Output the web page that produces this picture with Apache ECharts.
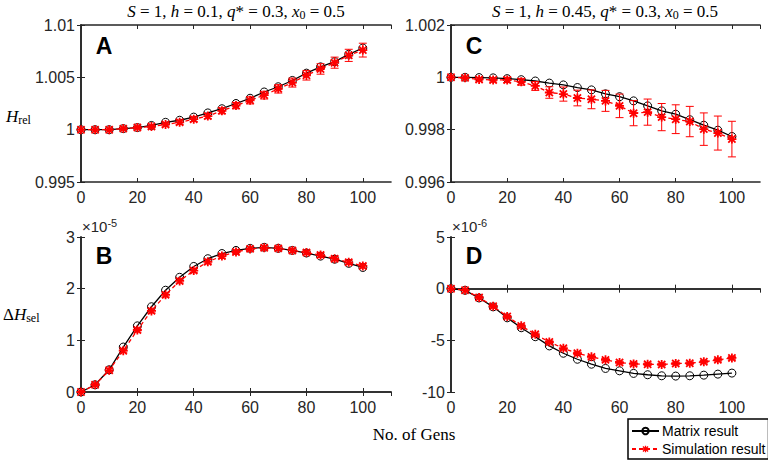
<!DOCTYPE html>
<html>
<head>
<meta charset="utf-8">
<title>Hrel / dHsel</title>
<script src="https://cdn.jsdelivr.net/npm/echarts@6/dist/echarts.min.js"></script>
<style>
  html, body { margin: 0; padding: 0; background: #fff; }
  #main { width: 768px; height: 462px; }
</style>
</head>
<body>
<div id="main"></div>
<script>
// generations (x)
var gens = [0, 5, 10, 15, 20, 25, 30, 35, 40, 45, 50, 55, 60, 65, 70, 75, 80, 85, 90, 95, 100];

// A: H_rel, h = 0.1
var matrixA = [1.0000, 1.0000, 1.0000, 1.0001, 1.0002, 1.0004, 1.0007, 1.0009, 1.0012, 1.0016, 1.0020, 1.0025, 1.0030, 1.0036, 1.0041, 1.0047, 1.0054, 1.0060, 1.0065, 1.0072, 1.0078];
var simA    = [1.0000, 1.0000, 1.0000, 1.0001, 1.0002, 1.0003, 1.0005, 1.0007, 1.0010, 1.0013, 1.0018, 1.0023, 1.0028, 1.0033, 1.0039, 1.0045, 1.0052, 1.0058, 1.0064, 1.0071, 1.0076];
var errA    = [0, 0.00004, 0.00006, 0.00008, 0.0001, 0.00013, 0.00016, 0.0002, 0.00022, 0.00025, 0.00028, 0.0003, 0.00034, 0.00037, 0.0004, 0.00043, 0.00046, 0.0005, 0.00053, 0.00058, 0.00066];

// C: H_rel, h = 0.45
var matrixC = [1.0000, 1.0000, 0.99999, 0.99998, 0.99995, 0.99991, 0.99986, 0.99978, 0.99971, 0.99961, 0.99952, 0.99937, 0.99926, 0.99910, 0.99891, 0.99872, 0.99859, 0.99838, 0.99817, 0.99798, 0.99774];
var simC    = [1.0000, 0.99998, 0.99992, 0.9999, 0.9999, 0.99983, 0.99967, 0.99942, 0.99936, 0.99921, 0.99916, 0.9991, 0.99891, 0.99863, 0.99867, 0.99848, 0.9984, 0.99831, 0.99802, 0.99787, 0.99764];
var errC    = [0, 0.00003, 0.00006, 0.00008, 0.0001, 0.00013, 0.00017, 0.00022, 0.00027, 0.0003, 0.00036, 0.0004, 0.00045, 0.00048, 0.0005, 0.00052, 0.00055, 0.00058, 0.00062, 0.00065, 0.00068];

// B: dH_sel (x 1e-5), h = 0.1
var matrixB = [0, 0.14, 0.43, 0.87, 1.28, 1.65, 1.97, 2.22, 2.43, 2.58, 2.68, 2.74, 2.78, 2.80, 2.78, 2.74, 2.69, 2.63, 2.57, 2.49, 2.41];
var simB    = [0, 0.14, 0.42, 0.80, 1.20, 1.57, 1.88, 2.15, 2.35, 2.52, 2.63, 2.71, 2.77, 2.79, 2.78, 2.74, 2.70, 2.65, 2.58, 2.51, 2.44];
var errB    = [0, 0.02, 0.03, 0.03, 0.04, 0.04, 0.04, 0.04, 0.04, 0.04, 0.04, 0.04, 0.04, 0.04, 0.04, 0.04, 0.04, 0.04, 0.04, 0.04, 0.04];

// D: dH_sel (x 1e-6), h = 0.45
var matrixD = [0, -0.16, -0.9, -1.76, -2.82, -3.78, -4.65, -5.54, -6.25, -6.83, -7.31, -7.72, -7.95, -8.2, -8.33, -8.43, -8.46, -8.43, -8.37, -8.27, -8.17];
var simD    = [0, -0.15, -0.85, -1.7, -2.7, -3.6, -4.42, -5.16, -5.77, -6.25, -6.6, -6.89, -7.15, -7.28, -7.31, -7.34, -7.24, -7.21, -7.08, -6.89, -6.7];
var errD    = [0, 0.05, 0.08, 0.1, 0.1, 0.12, 0.12, 0.12, 0.12, 0.12, 0.12, 0.12, 0.12, 0.12, 0.12, 0.12, 0.12, 0.12, 0.12, 0.12, 0.12];

var xTicks = [0, 110, 20];

var axisColor = '#262626';
var sans = '"Liberation Sans", Arial, sans-serif';
var serif = '"Liberation Serif", "Times New Roman", serif';
var star = 'path://M0,4L10,4L10,6L0,6ZM4,0L6,0L6,10L4,10ZM1.7,0.3L9.7,8.3L8.3,9.7L0.3,1.7ZM8.3,0.3L9.7,1.7L1.7,9.7L0.3,8.3Z';

var panels = [
  { grid: { left: 81, top: 25, width: 310, height: 157 }, y: [0.995, 1.01, 0.005], mat: matrixA, sim: simA, err: errA },
  { grid: { left: 451, top: 25, width: 309, height: 157 }, y: [0.996, 1.002, 0.002], mat: matrixC, sim: simC, err: errC },
  { grid: { left: 81, top: 237, width: 310, height: 155 }, y: [0, 3, 1], mat: matrixB, sim: simB, err: errB },
  { grid: { left: 451, top: 237, width: 309, height: 155 }, y: [-10, 5, 5], mat: matrixD, sim: simD, err: errD }
];

var grids = [], xAxes = [], yAxes = [], series = [];

function errBar(params, api) {
  var x = api.value(0);
  var lo = api.coord([x, api.value(1)]);
  var hi = api.coord([x, api.value(2)]);
  var w = 4;
  var st = { stroke: '#ff0000', lineWidth: 1 };
  return {
    type: 'group',
    children: [
      { type: 'line', shape: { x1: lo[0], y1: lo[1], x2: hi[0], y2: hi[1] }, style: st },
      { type: 'line', shape: { x1: lo[0] - w, y1: lo[1], x2: lo[0] + w, y2: lo[1] }, style: st },
      { type: 'line', shape: { x1: hi[0] - w, y1: hi[1], x2: hi[0] + w, y2: hi[1] }, style: st }
    ]
  };
}

panels.forEach(function (p, i) {
  var g = Object.assign({ outerBoundsMode: 'none' }, p.grid);
  grids.push(g);
  var line = { show: true, lineStyle: { color: axisColor, width: 1.6 } };
  var tick = { show: true, inside: true, length: 4, lineStyle: { color: axisColor, width: 1 } };
  var lab = { color: axisColor, fontFamily: sans, fontSize: 16 };
  xAxes.push({ type: 'value', gridIndex: i, position: 'bottom', min: xTicks[0], max: xTicks[1], interval: xTicks[2],
    axisLine: line, axisTick: tick, splitLine: { show: false },
    axisLabel: Object.assign({ margin: 7, showMaxLabel: false }, lab) });
  xAxes.push({ type: 'value', gridIndex: i, position: 'top', min: xTicks[0], max: xTicks[1], interval: xTicks[2],
    axisLine: line, axisTick: tick, splitLine: { show: false }, axisLabel: { show: false } });
  yAxes.push({ type: 'value', gridIndex: i, position: 'left', min: p.y[0], max: p.y[1], interval: p.y[2],
    axisLine: line, axisTick: tick, splitLine: { show: false },
    axisLabel: Object.assign({ margin: 6 }, lab) });
  yAxes.push({ type: 'value', gridIndex: i, position: 'right', min: p.y[0], max: p.y[1], interval: p.y[2],
    axisLine: line, axisTick: tick, splitLine: { show: false }, axisLabel: { show: false } });

  var mat = gens.map(function (x, k) { return [x, p.mat[k]]; });
  var sim = gens.map(function (x, k) { return [x, p.sim[k]]; });
  var bars = gens.map(function (x, k) { return [x, p.sim[k] - p.err[k], p.sim[k] + p.err[k]]; });

  series.push({
    name: 'Matrix result', type: 'line', xAxisIndex: 2 * i, yAxisIndex: 2 * i, data: mat, z: 2,
    symbol: 'circle', symbolSize: 8, showAllSymbol: true,
    itemStyle: { color: 'rgba(255,255,255,0)', borderColor: '#000', borderWidth: 1 },
    lineStyle: { color: '#000', width: 1.3 }, emphasis: { disabled: true }
  });
  series.push({
    name: 'err' + i, type: 'custom', xAxisIndex: 2 * i, yAxisIndex: 2 * i, data: bars, z: 3,
    renderItem: errBar, encode: { x: 0, y: [1, 2] }
  });
  series.push({
    name: 'Simulation result', type: 'line', xAxisIndex: 2 * i, yAxisIndex: 2 * i, data: sim, z: 4,
    symbol: star, symbolSize: 9, showAllSymbol: true,
    itemStyle: { color: '#ff0000' },
    lineStyle: { color: '#ff0000', width: 1.3, type: [4, 3] }, emphasis: { disabled: true }
  });
});

var rich = {
  i: { fontFamily: serif, fontStyle: 'italic', fontSize: 17, lineHeight: 20, fill: '#000' },
  n: { fontFamily: serif, fontSize: 17, lineHeight: 20, fill: '#000' },
  s: { fontFamily: serif, fontSize: 12, lineHeight: 12, verticalAlign: 'bottom', fill: '#000' },
  e: { fontFamily: sans, fontSize: 11, lineHeight: 11, verticalAlign: 'top', fill: axisColor },
  m: { fontFamily: sans, fontSize: 15, lineHeight: 18, fill: axisColor }
};

function txt(x, y, text, align, extra) {
  return {
    type: 'text', x: x, y: y, silent: true,
    style: Object.assign({ text: text, rich: rich, align: align || 'left', verticalAlign: 'middle',
      fontFamily: serif, fontSize: 17, fill: '#000' }, extra || {})
  };
}

function letter(x, y, t) {
  return txt(x, y, t, 'center', { fontFamily: sans, fontWeight: 'bold', fontSize: 23, rich: null });
}

var graphics = [
  txt(236, 11, '{i|S}{n| = 1, }{i|h}{n| = 0.1, }{i|q}{n|* = 0.3, }{i|x}{s|0}{n| = 0.5}', 'center'),
  txt(605, 11, '{i|S}{n| = 1, }{i|h}{n| = 0.45, }{i|q}{n|* = 0.3, }{i|x}{s|0}{n| = 0.5}', 'center'),
  txt(6, 116, '{i|H}{s|rel}', 'left'),
  txt(3, 314, '{n|Δ}{i|H}{s|sel}', 'left'),
  txt(414, 434, '{n|No. of Gens}', 'center'),
  txt(82, 226, '{m|×10}{e|-5}', 'left'),
  txt(452, 226, '{m|×10}{e|-6}', 'left'),
  letter(104, 46, 'A'),
  letter(474, 46, 'C'),
  letter(104, 256, 'B'),
  letter(474, 256, 'D')
];

var chart = echarts.init(document.getElementById('main'), null, { renderer: 'svg' });
chart.setOption({
  animation: false,
  backgroundColor: '#fff',
  grid: grids,
  xAxis: xAxes,
  yAxis: yAxes,
  series: series,
  legend: {
    data: ['Matrix result', 'Simulation result'],
    orient: 'vertical', left: 628, top: 419,
    backgroundColor: '#fff', borderColor: '#000', borderWidth: 1.5,
    padding: [5, 3, 3, 3], itemGap: 4, itemWidth: 27, itemHeight: 8,
    selectedMode: false,
    textStyle: { fontFamily: sans, fontSize: 14, color: '#000', padding: [0, 0, 0, -2] }
  },
  graphic: graphics
});
</script>
</body>
</html>
